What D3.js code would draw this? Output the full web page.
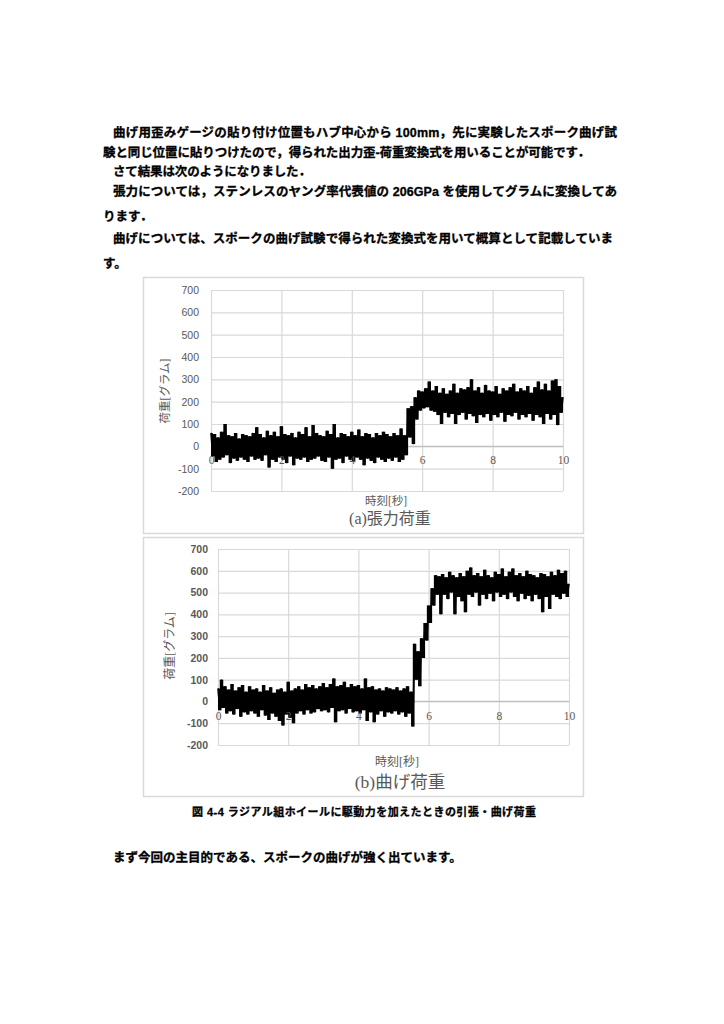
<!DOCTYPE html>
<html>
<head>
<meta charset="utf-8">
<script src="https://cdn.jsdelivr.net/npm/d3@7"></script>
<style>
  body { margin: 0; background: #fff; }
  svg { display: block; }
  .body-text { font-family: "Liberation Sans", "Noto Sans CJK JP", sans-serif; font-weight: 700; fill: #000; stroke: #000; stroke-width: 0.3px; }
</style>
</head>
<body>
<svg id="page" width="724" height="1024"></svg>
<script>
// tick labels
const yTicks = [-200, -100, 0, 100, 200, 300, 400, 500, 600, 700];
const xTicks = [0, 2, 4, 6, 8, 10];
const sampleStep = 0.05;  // seconds between samples

const tension = [
  60,-45,55,-70,40,-60,65,-50,100,-40,50,-75,45,-55,60,-65,35,-50,55,-60,
  50,-70,45,-45,60,-60,85,-55,55,-65,40,-40,70,-95,50,-60,65,-70,45,-50,
  90,-60,55,-75,50,-45,60,-85,40,-55,65,-60,55,-50,85,-70,45,-60,95,-55,
  60,-45,50,-65,45,-70,70,-50,55,-100,100,-60,40,-55,60,-75,55,-45,45,-60,
  65,-70,50,-50,75,-60,45,-85,60,-55,55,-65,40,-75,60,-50,50,-60,65,-70,
  55,-55,45,-65,60,-50,50,-70,80,-60,50,-40,170,40,180,10,220,120,250,160,
  245,170,260,175,290,160,250,155,270,140,240,100,260,150,235,130,250,145,280,100,
  240,140,260,150,255,120,265,145,300,135,250,105,265,140,240,130,275,145,250,115,
  245,140,270,130,235,150,260,110,250,140,265,135,280,150,245,120,260,140,250,130,
  270,145,240,115,265,140,290,130,255,100,280,145,250,120,295,140,300,95,270,150,
  220
];

// (b) bending load [g]
const bending = [
  60,-40,100,-30,70,-55,55,-45,80,-60,50,-35,65,-70,75,-50,45,-60,70,-45,
  55,-55,60,-70,45,-40,75,-65,50,-85,65,-55,40,-70,55,-90,60,-110,45,-60,
  90,-75,50,-100,60,-55,70,-45,55,-60,80,-40,65,-55,75,-50,60,-35,70,-45,
  85,-40,65,-50,80,-30,105,-95,70,-45,75,-40,90,-55,65,-35,80,-50,70,-45,
  75,-55,60,-40,105,-90,65,-50,70,-95,55,-60,60,-45,50,-70,65,-50,60,-55,
  55,-45,65,-60,50,-50,60,-70,70,-55,45,-115,265,100,230,70,290,200,360,280,
  440,360,520,440,580,490,575,400,585,490,570,470,595,500,580,400,570,480,590,460,
  575,410,600,490,615,480,580,500,590,440,575,490,605,470,580,495,570,460,595,500,
  585,480,610,490,575,470,595,500,610,480,580,460,590,495,575,470,600,485,585,460,
  580,490,570,470,590,410,585,480,575,425,595,490,580,480,605,470,590,495,600,480,
  540
];

// page text
const paragraphLines = [
  "曲げ用歪みゲージの貼り付け位置もハブ中心から 100mm，先に実験したスポーク曲げ試",
  "験と同じ位置に貼りつけたので，得られた出力歪-荷重変換式を用いることが可能です．",
  "さて結果は次のようになりました．",
  "張力については，ステンレスのヤング率代表値の 206GPa を使用してグラムに変換してあ",
  "ります．",
  "曲げについては、スポークの曲げ試験で得られた変換式を用いて概算として記載していま",
  "す。"
];
const figureCaption = "図 4-4  ラジアル組ホイールに駆動力を加えたときの引張・曲げ荷重";
const closingLine = "まず今回の主目的である、スポークの曲げが強く出ています。";
const yTitle = "荷重[グラム]";
const xTitle = "時刻[秒]";

const svg = d3.select("#page");
svg.append("rect").attr("width", 724).attr("height", 1024).attr("fill", "#fff");

// paragraph
const lineLayout = [
  { x: 113, y: 133, w: 504 },
  { x: 103, y: 153, w: 487 },
  { x: 113, y: 172, w: 198 },
  { x: 113, y: 192, w: 504 },
  { x: 103, y: 217, w: null },
  { x: 113, y: 239, w: 500 },
  { x: 103, y: 264, w: null }
];
paragraphLines.forEach((s, i) => {
  const L = lineLayout[i];
  const t = svg.append("text")
    .attr("class", "body-text")
    .attr("x", L.x).attr("y", L.y)
    .attr("dominant-baseline", "central")
    .style("font-size", "12.5px")
    .text(s);
  if (L.w) t.attr("textLength", L.w).attr("lengthAdjust", "spacing");
});

function drawChart(series, o) {
  const g = svg.append("g");
  const n = series.length;

  g.append("rect")
    .attr("x", o.frame[0] + 0.5).attr("y", o.frame[1] + 0.5)
    .attr("width", o.frame[2]).attr("height", o.frame[3])
    .attr("fill", "#fff").attr("stroke", "#d9d9d9").attr("stroke-width", 1.5);

  const x = d3.scaleLinear().domain([0, 10]).range([o.x0, o.x1]);
  const y = d3.scaleLinear().domain([-200, 700]).range([o.yBot, o.yTop]);

  // horizontal gridlines + y labels
  const yAxis = g.append("g")
    .attr("transform", `translate(${o.x0},0)`)
    .call(d3.axisLeft(y).tickValues(yTicks).tickSize(-(o.x1 - o.x0)).tickPadding(o.yPad)
      .tickFormat(d => d));
  yAxis.select(".domain").remove();
  yAxis.selectAll("line").attr("stroke", "#d9d9d9").attr("stroke-width", 1.2);
  yAxis.selectAll("text")
    .attr("fill", "#595959")
    .style("font-family", "'Liberation Sans', sans-serif")
    .style("font-size", "10.5px")
    .style("font-weight", o.yBold ? 700 : 400);

  // vertical gridlines
  const xGrid = g.append("g")
    .attr("transform", `translate(0,${o.yBot})`)
    .call(d3.axisBottom(x).tickValues(xTicks).tickSize(-(o.yBot - o.yTop)).tickFormat(""));
  xGrid.select(".domain").remove();
  xGrid.selectAll("line").attr("stroke", "#d9d9d9").attr("stroke-width", 1.2);

  // horizontal axis line at 0
  g.append("line")
    .attr("x1", o.x0).attr("x2", o.x1)
    .attr("y1", y(0)).attr("y2", y(0))
    .attr("stroke", "#bfbfbf").attr("stroke-width", 1.2);

  // data: the swing between neighbouring samples is filled, then the trace on top
  const next = i => series[Math.min(i + 1, n - 1)];
  const band = d3.area()
    .curve(d3.curveStepAfter)
    .x((d, i) => x(i * sampleStep))
    .y0((d, i) => y(Math.min(d, next(i))))
    .y1((d, i) => y(Math.max(d, next(i))));
  g.append("path")
    .datum(series)
    .attr("d", band)
    .attr("fill", "#000");

  const line = d3.line()
    .x((d, i) => x(i * sampleStep))
    .y(d => y(d));
  g.append("path")
    .datum(series)
    .attr("d", line)
    .attr("fill", "none")
    .attr("stroke", "#000")
    .attr("stroke-width", 1.6);

  // x labels sit under the 0 line
  const xAxis = g.append("g")
    .attr("transform", `translate(0,${y(0)})`)
    .call(d3.axisBottom(x).tickValues(xTicks).tickSize(0).tickPadding(o.xPad));
  xAxis.select(".domain").remove();
  xAxis.selectAll("text")
    .attr("fill", "#595959")
    .style("font-family", "'Liberation Serif', serif")
    .style("font-size", "11.5px");

  // titles
  g.append("text")
    .attr("transform", `translate(${o.yTitle[0]},${o.yTitle[1]}) rotate(-90)`)
    .attr("text-anchor", "middle").attr("dominant-baseline", "central")
    .attr("fill", "#595959")
    .style("font-family", "'Liberation Serif', 'Noto Sans CJK JP', serif")
    .style("font-size", o.titleSize + "px")
    .text(yTitle);
  g.append("text")
    .attr("x", o.xTitle[0]).attr("y", o.xTitle[1])
    .attr("text-anchor", "middle").attr("dominant-baseline", "central")
    .attr("fill", "#595959")
    .style("font-family", "'Liberation Serif', 'Noto Sans CJK JP', serif")
    .style("font-size", o.titleSize + "px")
    .text(xTitle);
  g.append("text")
    .attr("x", o.caption[0]).attr("y", o.caption[1])
    .attr("text-anchor", "middle").attr("dominant-baseline", "central")
    .attr("fill", "#595959")
    .style("font-family", "'Liberation Serif', 'Noto Sans CJK JP', serif")
    .style("font-size", o.captionSize + "px")
    .text(o.captionText);
}

drawChart(tension, {
  frame: [143, 277, 440, 256],
  x0: 211, x1: 563, yTop: 290, yBot: 491,
  yPad: 12, xPad: 10, yBold: false,
  yTitle: [165, 391], xTitle: [386, 501], caption: [390, 518],
  titleSize: 11.5, captionSize: 16, captionText: "(a)張力荷重"
});

drawChart(bending, {
  frame: [143, 537, 440, 259],
  x0: 218, x1: 569, yTop: 549, yBot: 745,
  yPad: 10, xPad: 10, yBold: true,
  yTitle: [170, 646], xTitle: [397, 762], caption: [400, 782],
  titleSize: 12, captionSize: 17.5, captionText: "(b)曲げ荷重"
});

// figure caption and closing line
svg.append("text")
  .attr("class", "body-text")
  .attr("x", 192).attr("y", 812)
  .attr("dominant-baseline", "central")
  .attr("textLength", 344).attr("lengthAdjust", "spacing")
  .style("font-size", "11px")
  .text(figureCaption);

svg.append("text")
  .attr("class", "body-text")
  .attr("x", 113).attr("y", 858)
  .attr("dominant-baseline", "central")
  .style("font-size", "12.5px")
  .text(closingLine);
</script>
</body>
</html>
